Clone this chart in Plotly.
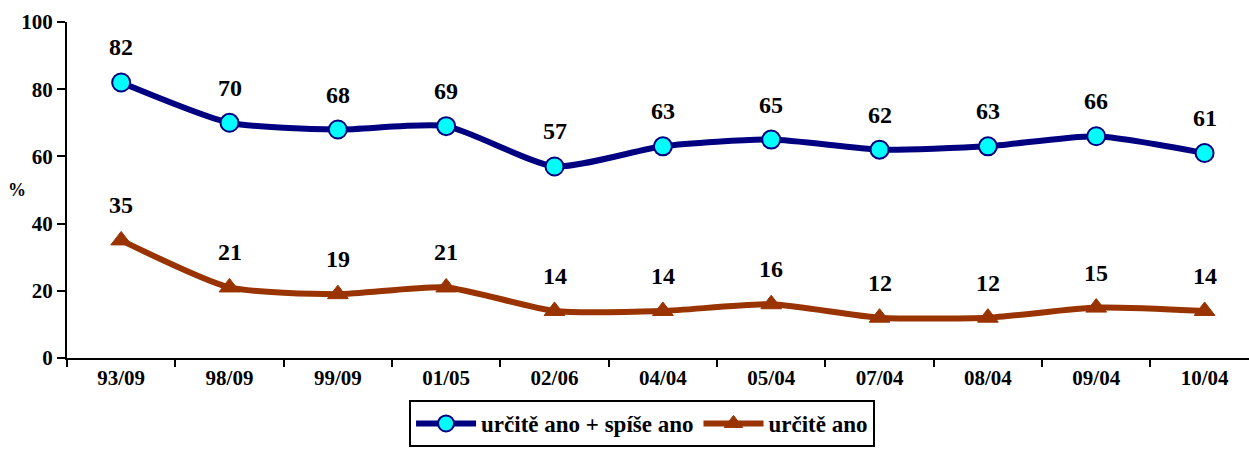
import plotly.graph_objects as go

categories = ["93/09", "98/09", "99/09", "01/05", "02/06", "04/04", "05/04", "07/04", "08/04", "09/04", "10/04"]
series_total = [82, 70, 68, 69, 57, 63, 65, 62, 63, 66, 61]
series_definitely = [35, 21, 19, 21, 14, 14, 16, 12, 12, 15, 14]
name_total = "určitě ano + spíše ano"
name_definitely = "určitě ano"
y_ticks = [0, 20, 40, 60, 80, 100]

FONT = "'Liberation Serif', 'Times New Roman', Tinos, serif"

fig = go.Figure()
fig.add_trace(go.Scatter(
    x=categories, y=series_total, name=name_total,
    mode="lines+markers",
    line=dict(color="#000080", width=6, shape="spline", smoothing=0.6),
    marker=dict(symbol="circle", size=18, color="#00FFFF", line=dict(color="#000080", width=2)),
    cliponaxis=False,
))
fig.add_trace(go.Scatter(
    x=categories, y=series_definitely, name=name_definitely,
    mode="lines+markers",
    line=dict(color="#993300", width=6, shape="spline", smoothing=0.6),
    marker=dict(symbol="triangle-up", size=18, color="#993300", line=dict(color="#993300", width=1)),
    cliponaxis=False,
))

annotations = []
for series in (series_total, series_definitely):
    for c, v in zip(categories, series):
        annotations.append(dict(
            x=c, y=v, xref="x", yref="y", text=str(v), showarrow=False,
            yshift=35, xanchor="center", yanchor="middle",
            font=dict(family=FONT, size=24, color="black", weight="bold"),
        ))
annotations.append(dict(
    text="%", xref="paper", yref="paper", x=-0.042, y=0.5,
    xanchor="center", yanchor="middle", showarrow=False,
    font=dict(family=FONT, size=18, color="black", weight="bold"),
))

fig.update_layout(
    width=1249, height=450,
    margin=dict(l=67, r=0, t=22, b=92),
    paper_bgcolor="white", plot_bgcolor="white",
    font=dict(family=FONT, color="black"),
    showlegend=True,
    legend=dict(
        orientation="h", x=0.4865, xanchor="center", y=-0.125, yanchor="top",
        bordercolor="black", borderwidth=2, bgcolor="white",
        font=dict(family=FONT, size=23, color="black", weight="bold"),
        itemwidth=60, tracegroupgap=0,
    ),
    annotations=annotations,
)
fig.update_xaxes(
    type="category", range=[-0.5, 10.41],
    showline=True, linecolor="black", linewidth=2,
    ticks="outside", tickson="boundaries", ticklen=7, tickcolor="black", tickwidth=2,
    showgrid=False, zeroline=False,
    tickfont=dict(family=FONT, size=21, color="black", weight="bold"),
)
fig.update_yaxes(
    range=[0, 100], tickvals=y_ticks,
    showline=True, linecolor="black", linewidth=2,
    ticks="outside", ticklen=8, tickcolor="black", tickwidth=2,
    showgrid=False, zeroline=False,
    tickfont=dict(family=FONT, size=21, color="black", weight="bold"),
)

fig.write_html(
    "out.html",
    config={"displayModeBar": False},
    post_script="document.body.style.margin='0';document.body.style.padding='0';",
)
